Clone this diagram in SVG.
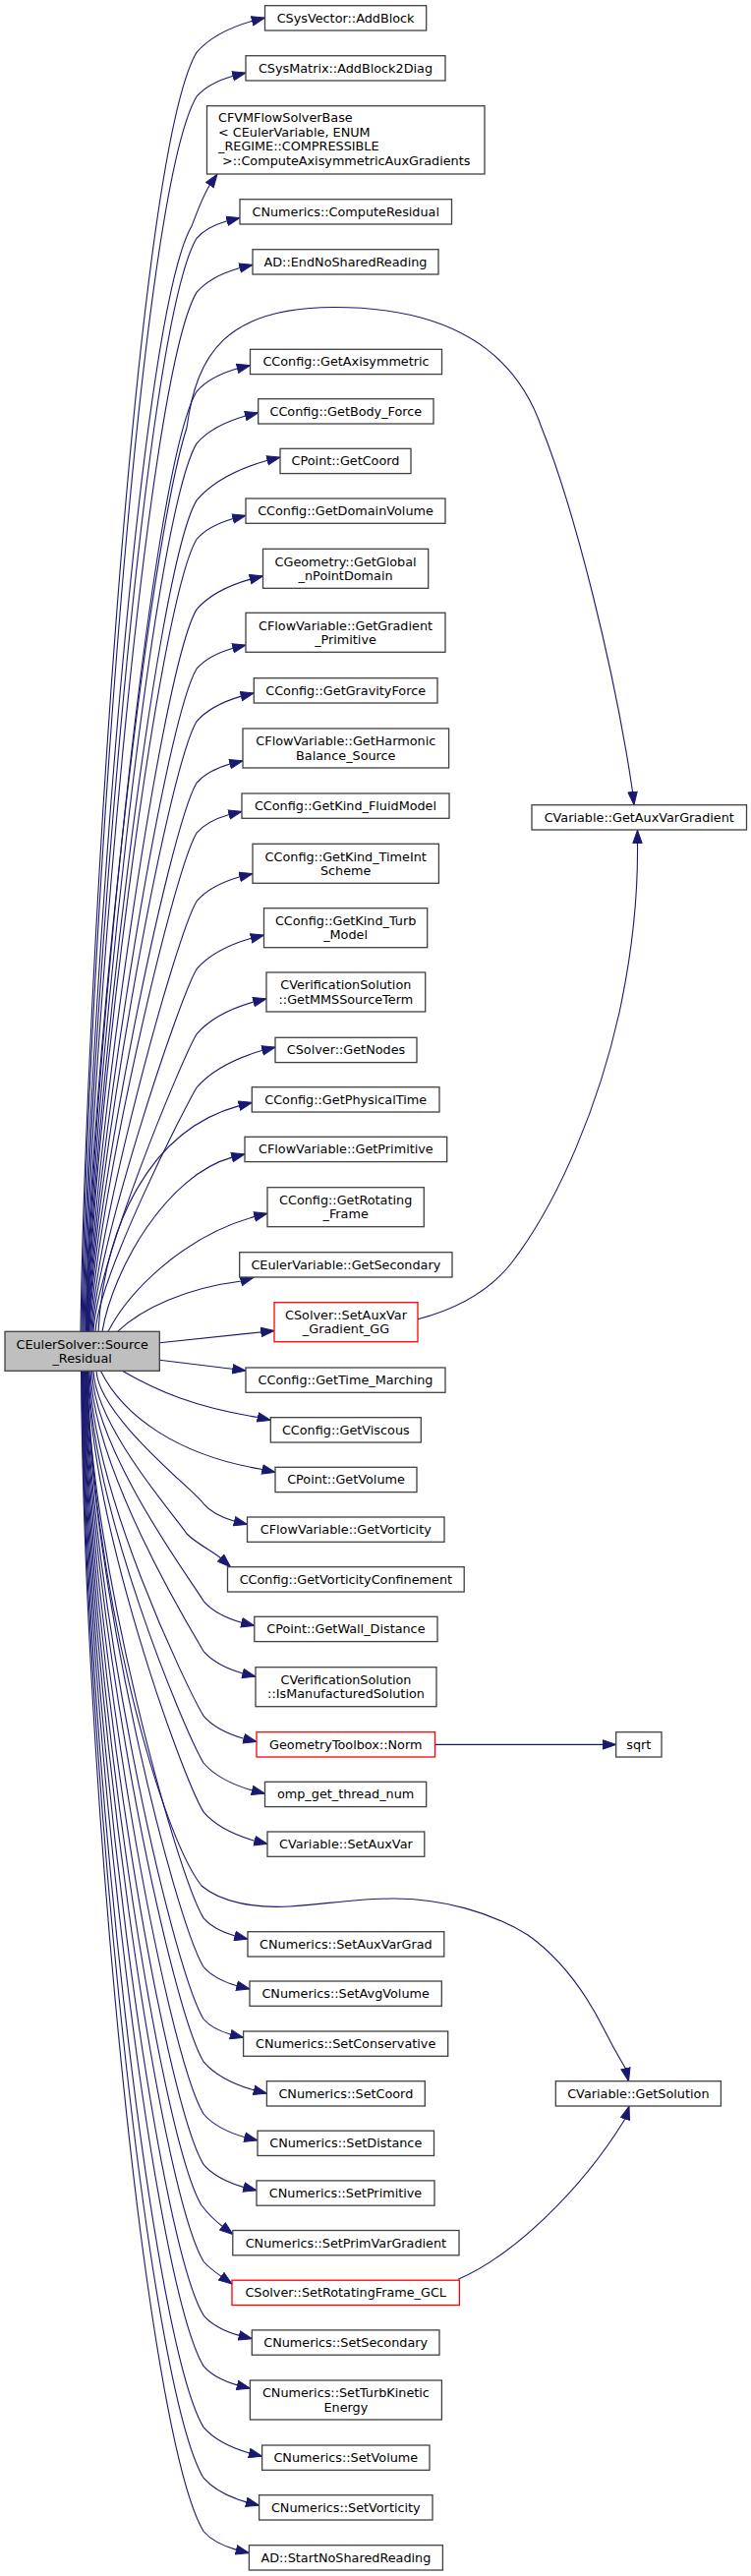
<svg xmlns="http://www.w3.org/2000/svg" width="764" height="2620" viewBox="0 0 764 2620">
<style>
.n rect{fill:#fff;stroke:#404040;stroke-width:1.3}
.n.r rect{stroke:#ff0000}
.n.root rect{fill:#bfbfbf}
text{font-family:"DejaVu Sans","Liberation Sans",sans-serif;font-size:12.8px;fill:#000;text-anchor:middle}
text.l{text-anchor:start}
.e path{fill:none;stroke:#191970;stroke-width:1.1;marker-end:url(#a)}
</style>
<defs>
<marker id="a" markerUnits="userSpaceOnUse" markerWidth="15" markerHeight="11" viewBox="0 0 15 11" refX="13.8" refY="5.5" orient="auto">
<path d="M0.5,0.8L13.8,5.5L0.5,10.2z" fill="#191970" stroke="#191970" stroke-width="1"/>
</marker>
</defs>
<rect width="764" height="2620" fill="#fff"/>
<g id="edges" class="e">
<path d="M82,1354.3C86,1051.2 135,162.6 200,53.3C214.2,36.7 234.5,27.7 256.6,21.3L269.5,18.1"/>
<path d="M83,1354.3C87,1061.6 137.2,203.7 200,98.2C209.3,87.3 222.6,81.4 237.1,77.2L250,74"/>
<path d="M84,1354.3C88,1092.3 139,324.4 195,230C200,217 206,200 213.5,188L221,177.2"/>
<path d="M85,1354.3C89,1095.2 144.4,335.7 200,242.3C207.8,233.2 219,228.2 231.1,224.7L244,221.5"/>
<path d="M86,1354.3C90,1108 147.2,386.1 200,297.4C211,284.4 226.9,277.4 244.1,272.5L257,269.3"/>
<path d="M87,1354.3C91,1100 150,560 190,435C200,360 230,312.5 340,312.5C440,312.5 520,345 551,435C585,520 625,680 643.5,805L645,818.7"/>
<path d="M87.5,1354.3C91.5,1131.6 152.2,478.6 200,398.3C210.4,386.1 225.4,379.5 241.6,374.8L254.5,371.6"/>
<path d="M88,1354.3C92,1143.9 154.8,527 200,451.1C212.5,436.5 230.4,428.6 249.8,423L262.7,419.8"/>
<path d="M88.5,1354.3C92.5,1157.3 157.7,579.9 200,508.9C218,487.7 244,476.3 272.1,468.2L285,465"/>
<path d="M89,1354.3C93,1166.5 159.7,616.2 200,548.5C209.3,537.6 222.6,531.7 237.1,527.5L250,524.3"/>
<path d="M89.5,1354.3C93.5,1183.2 163.3,681.6 200,619.9C213.7,603.8 233.3,595.2 254.6,589.1L267.5,585.9"/>
<path d="M90,1354.3C94,1197.2 166.3,736.8 200,680.2C209.3,669.3 222.6,663.4 237.1,659.2L250,656"/>
<path d="M90.5,1354.3C94.5,1209.7 169,785.9 200,733.8C211.4,720.5 227.7,713.3 245.4,708.1L258.3,704.9"/>
<path d="M91,1354.3C95,1224.3 172.1,843.2 200,796.3C208.5,786.3 220.8,780.9 234.1,777L247,773.8"/>
<path d="M92,1354.3C96,1236.1 174.6,889.8 200,847.2C208.3,837.5 220.2,832.2 233.1,828.5L246,825.3"/>
<path d="M93,1354.3C97,1252.3 178.1,953.5 200,916.7C211,903.7 226.9,896.8 244.1,891.8L257,888.6"/>
<path d="M94,1354.3C98,1268.4 181.6,1016.7 200,985.7C213.9,969.4 233.9,960.6 255.6,954.3L268.5,951.1"/>
<path d="M95,1354.3C99,1283.8 184.9,1077.2 200,1051.8C214.5,1034.7 235.4,1025.5 258.1,1019L271,1015.8"/>
<path d="M97,1354.3C101,1296.5 187.6,1127 200,1106.2C216.8,1086.5 240.9,1075.9 267.1,1068.3L280,1065.1"/>
<path d="M100,1354.3C106,1250 150,1150 243.4,1124.6L256.3,1121.4"/>
<path d="M104,1354.3C115,1290 170,1195 236.1,1177.1L249,1173.9"/>
<path d="M110,1354.3C130,1315 185,1258 259.1,1237.4L272,1234.2"/>
<path d="M119.5,1354.3C145,1330 190,1310 245.5,1303L258,1299.3"/>
<path d="M162.3,1365.7L279,1353.5"/>
<path d="M162.3,1383.3L250,1394"/>
<path d="M124.4,1394.3C160,1415 200,1432 262.5,1441.5L275.3,1444.5"/>
<path d="M102.4,1394.3C125,1440 180,1480 267,1494.5L280,1497.5"/>
<path d="M98,1394.3C101,1441.6 200.3,1518 207,1529.3C214.9,1538.6 226.3,1543.6 238.6,1547.2L251.5,1550.4"/>
<path d="M95,1394.3C98,1452.3 181.7,1546.1 190,1560C200,1570 215,1577 225,1585L234.5,1593.7"/>
<path d="M93.5,1394.3C96.5,1476.2 195.3,1608.6 207,1628.3C216.7,1639.7 230.7,1645.9 245.9,1650.3L258.8,1653.5"/>
<path d="M92,1394.3C95,1494.1 192.8,1655.4 207,1679.3C217,1691.1 231.5,1697.4 247.1,1702L260,1705.2"/>
<path d="M91,1394.3C94,1517.1 189.5,1715.6 207,1745.1C217.3,1757.2 232.1,1763.7 248.1,1768.3L261,1771.5"/>
<path d="M90,1394.3C93,1533.8 187.1,1759.5 207,1793C219.4,1807.6 237.3,1815.4 256.6,1821L269.5,1824.2"/>
<path d="M89.5,1394.3C92.5,1551.3 184.6,1805.2 207,1842.9C220,1858.2 238.8,1866.4 259.1,1872.3L272,1875.5"/>
<path d="M89,1394.3C92,1600 160,1860 205,1918C225,1935 260,1941 295,1939C330,1937 360,1931 400,1931C450,1931 500,1945 537,1968C575,1995 600,2035 615,2065C625,2085 633,2098 636.5,2104L639.5,2116.7"/>
<path d="M88.5,1394.3C91.5,1589.1 179.2,1904.1 207,1950.9C215,1960.3 226.6,1965.4 239.1,1969L252,1972.2"/>
<path d="M88,1394.3C91,1606.5 176.7,1949.6 207,2000.5C215.5,2010.5 227.8,2015.9 241.1,2019.8L254,2023"/>
<path d="M87.5,1394.3C90.5,1625 174,1998.1 207,2053.5C213.9,2061.6 223.9,2066 234.7,2069.2L247.6,2072.4"/>
<path d="M87,1394.3C90,1640.2 171.9,2037.8 207,2096.8C219.9,2111.9 238.4,2120.1 258.5,2125.9L271.4,2129.1"/>
<path d="M86.5,1394.3C89.5,1658.8 169.2,2086.5 207,2150C217.5,2162.4 232.7,2169 249.1,2173.8L262,2177"/>
<path d="M86,1394.3C89,1676.8 166.6,2133.6 207,2201.4C217.3,2213.5 232.1,2220 248.1,2224.6L261,2227.8"/>
<path d="M85.5,1394.3C88.5,1691.3 162.6,2171.7 205,2243C212,2252 219,2259 226.5,2264.5L237,2272.5"/>
<path d="M85,1394.3C88,1711.3 161.7,2223.9 207,2300C213,2307 219,2311 225.5,2315.5L236,2323"/>
<path d="M84.5,1394.3C87.5,1730.5 159,2274.1 207,2354.8C216.1,2365.5 229.2,2371.3 243.4,2375.4L256.3,2378.6"/>
<path d="M84,1394.3C87,1748.5 156.4,2321.4 207,2406.4C215.6,2416.5 228,2422 241.5,2425.9L254.4,2429.1"/>
<path d="M83.5,1394.3C86.5,1770.3 153.3,2378.4 207,2468.6C218.7,2482.3 235.5,2489.7 253.7,2495L266.6,2498.2"/>
<path d="M83,1394.3C86,1788.4 150.7,2425.6 207,2520.2C217.9,2533 233.7,2540 250.7,2544.9L263.6,2548.1"/>
<path d="M82.5,1394.3C85.5,1807.4 148,2475.4 207,2574.5C215.4,2584.3 227.4,2589.6 240.5,2593.4L253.4,2596.6"/>
<path d="M425,1341.7C470,1330 500,1310 520,1285C570,1220 610,1120 630,1030C645,960 649,900 648.5,858L648.5,844.3"/>
<path d="M442.5,1774.4L626.7,1774.4"/>
<path d="M466,2318.3C520,2295 590,2230 636,2155L640,2142.3"/>
</g>
<g id="root" class="n root"><rect x="5" y="1354.3" width="157.3" height="40"/><text x="83.65" y="1371.65">CEulerSolver::Source</text><text x="83.65" y="1385.95">_Residual</text></g>
<g id="n1" class="n"><rect x="269.5" y="5.7" width="164.2" height="25.3"/><text x="351.6" y="22.85">CSysVector::AddBlock</text></g>
<g id="n2" class="n"><rect x="250" y="56.7" width="203" height="25.3"/><text x="351.5" y="73.85">CSysMatrix::AddBlock2Diag</text></g>
<g id="n3" class="n"><rect x="210.5" y="107.7" width="282.5" height="69.3"/><text class="l" x="222" y="124.2">CFVMFlowSolverBase</text><text class="l" x="222" y="138.8">&lt; CEulerVariable, ENUM</text><text class="l" x="222" y="153.4">_REGIME::COMPRESSIBLE</text><text class="l" x="222" y="168" xml:space="preserve"> &gt;::ComputeAxisymmetricAuxGradients</text></g>
<g id="n4" class="n"><rect x="244" y="202.7" width="215.5" height="25.3"/><text x="351.75" y="219.85">CNumerics::ComputeResidual</text></g>
<g id="n5" class="n"><rect x="257" y="253.7" width="189" height="25.3"/><text x="351.5" y="270.85">AD::EndNoSharedReading</text></g>
<g id="n6" class="n"><rect x="254.5" y="355.3" width="195" height="25.3"/><text x="352" y="372.45">CConfig::GetAxisymmetric</text></g>
<g id="n7" class="n"><rect x="262.7" y="405.7" width="178.3" height="25.3"/><text x="351.85" y="422.85">CConfig::GetBody_Force</text></g>
<g id="n8" class="n"><rect x="285" y="456.3" width="133" height="25.3"/><text x="351.5" y="473.45">CPoint::GetCoord</text></g>
<g id="n9" class="n"><rect x="250" y="507" width="203" height="25.3"/><text x="351.5" y="524.15">CConfig::GetDomainVolume</text></g>
<g id="n10" class="n"><rect x="267.5" y="558.3" width="168.2" height="40"/><text x="351.6" y="575.65">CGeometry::GetGlobal</text><text x="351.6" y="589.95">_nPointDomain</text></g>
<g id="n11" class="n"><rect x="250" y="623.3" width="203" height="40"/><text x="351.5" y="640.65">CFlowVariable::GetGradient</text><text x="351.5" y="654.95">_Primitive</text></g>
<g id="n12" class="n"><rect x="258.3" y="689.7" width="186.7" height="25.3"/><text x="351.65" y="706.85">CConfig::GetGravityForce</text></g>
<g id="n13" class="n"><rect x="247" y="741" width="209.6" height="40"/><text x="351.8" y="758.35">CFlowVariable::GetHarmonic</text><text x="351.8" y="772.65">Balance_Source</text></g>
<g id="n14" class="n"><rect x="246" y="807" width="211" height="25.3"/><text x="351.5" y="824.15">CConfig::GetKind_FluidModel</text></g>
<g id="n15" class="n"><rect x="257" y="858.3" width="189.4" height="40"/><text x="351.7" y="875.65">CConfig::GetKind_TimeInt</text><text x="351.7" y="889.95">Scheme</text></g>
<g id="n16" class="n"><rect x="268.5" y="923.7" width="166.2" height="40"/><text x="351.6" y="941.05">CConfig::GetKind_Turb</text><text x="351.6" y="955.35">_Model</text></g>
<g id="n17" class="n"><rect x="271" y="989" width="161.7" height="40"/><text x="351.85" y="1006.35">CVerificationSolution</text><text x="351.85" y="1020.65">::GetMMSSourceTerm</text></g>
<g id="n18" class="n"><rect x="280" y="1055.3" width="144" height="25.3"/><text x="352" y="1072.45">CSolver::GetNodes</text></g>
<g id="n19" class="n"><rect x="256.3" y="1105.7" width="190.7" height="25.3"/><text x="351.65" y="1122.85">CConfig::GetPhysicalTime</text></g>
<g id="n20" class="n"><rect x="249" y="1156.3" width="205.7" height="25.3"/><text x="351.85" y="1173.45">CFlowVariable::GetPrimitive</text></g>
<g id="n21" class="n"><rect x="272" y="1207.7" width="159.3" height="40"/><text x="351.65" y="1225.05">CConfig::GetRotating</text><text x="351.65" y="1239.35">_Frame</text></g>
<g id="n22" class="n"><rect x="243.7" y="1273.7" width="216.3" height="25.3"/><text x="351.85" y="1290.85">CEulerVariable::GetSecondary</text></g>
<g id="n23" class="n r"><rect x="279" y="1324.7" width="146" height="40"/><text x="352" y="1342.05">CSolver::SetAuxVar</text><text x="352" y="1356.35">_Gradient_GG</text></g>
<g id="n24" class="n"><rect x="250" y="1391" width="203" height="25.3"/><text x="351.5" y="1408.15">CConfig::GetTime_Marching</text></g>
<g id="n25" class="n"><rect x="275.3" y="1441.7" width="153" height="25.3"/><text x="351.8" y="1458.85">CConfig::GetViscous</text></g>
<g id="n26" class="n"><rect x="280" y="1492.3" width="144" height="25.3"/><text x="352" y="1509.45">CPoint::GetVolume</text></g>
<g id="n27" class="n"><rect x="251.5" y="1543" width="200.5" height="25.3"/><text x="351.75" y="1560.15">CFlowVariable::GetVorticity</text></g>
<g id="n28" class="n"><rect x="231.5" y="1593.7" width="240.7" height="25.3"/><text x="351.85" y="1610.85">CConfig::GetVorticityConfinement</text></g>
<g id="n29" class="n"><rect x="258.8" y="1644.3" width="186.2" height="25.3"/><text x="351.9" y="1661.45">CPoint::GetWall_Distance</text></g>
<g id="n30" class="n"><rect x="260" y="1695.7" width="184" height="40"/><text x="352" y="1713.05">CVerificationSolution</text><text x="352" y="1727.35">::IsManufacturedSolution</text></g>
<g id="n31" class="n r"><rect x="261" y="1761.7" width="181.5" height="25.3"/><text x="351.75" y="1778.85">GeometryToolbox::Norm</text></g>
<g id="n32" class="n"><rect x="269.5" y="1812.3" width="164.2" height="25.3"/><text x="351.6" y="1829.45">omp_get_thread_num</text></g>
<g id="n33" class="n"><rect x="272" y="1863" width="159.8" height="25.3"/><text x="351.9" y="1880.15">CVariable::SetAuxVar</text></g>
<g id="n34" class="n"><rect x="252" y="1964.7" width="199.8" height="25.3"/><text x="351.9" y="1981.85">CNumerics::SetAuxVarGrad</text></g>
<g id="n35" class="n"><rect x="254" y="2015" width="195.3" height="25.3"/><text x="351.65" y="2032.15">CNumerics::SetAvgVolume</text></g>
<g id="n36" class="n"><rect x="247.6" y="2066" width="208.1" height="25.3"/><text x="351.65" y="2083.15">CNumerics::SetConservative</text></g>
<g id="n37" class="n"><rect x="271.4" y="2116.7" width="160.9" height="25.3"/><text x="351.85" y="2133.85">CNumerics::SetCoord</text></g>
<g id="n38" class="n"><rect x="262" y="2167.2" width="179.5" height="25.3"/><text x="351.75" y="2184.35">CNumerics::SetDistance</text></g>
<g id="n39" class="n"><rect x="261" y="2217.9" width="181" height="25.3"/><text x="351.5" y="2235.05">CNumerics::SetPrimitive</text></g>
<g id="n40" class="n"><rect x="236.8" y="2268.5" width="230.2" height="25.3"/><text x="351.9" y="2285.65">CNumerics::SetPrimVarGradient</text></g>
<g id="n41" class="n r"><rect x="236" y="2319.2" width="231.4" height="25.3"/><text x="351.7" y="2336.35">CSolver::SetRotatingFrame_GCL</text></g>
<g id="n42" class="n"><rect x="256.3" y="2369.9" width="190.7" height="25.3"/><text x="351.65" y="2387.05">CNumerics::SetSecondary</text></g>
<g id="n43" class="n"><rect x="254.4" y="2421" width="195" height="40"/><text x="351.9" y="2438.35">CNumerics::SetTurbKinetic</text><text x="351.9" y="2452.65">Energy</text></g>
<g id="n44" class="n"><rect x="266.6" y="2487" width="170.4" height="25.3"/><text x="351.8" y="2504.15">CNumerics::SetVolume</text></g>
<g id="n45" class="n"><rect x="263.6" y="2537.7" width="176.4" height="25.3"/><text x="351.8" y="2554.85">CNumerics::SetVorticity</text></g>
<g id="n46" class="n"><rect x="253.4" y="2588.7" width="197" height="25.3"/><text x="351.9" y="2605.85">AD::StartNoSharedReading</text></g>
<g id="n47" class="n"><rect x="541" y="818.7" width="218.5" height="25.3"/><text x="650.25" y="835.85">CVariable::GetAuxVarGradient</text></g>
<g id="n48" class="n"><rect x="565.3" y="2116.7" width="168.1" height="25.3"/><text x="649.35" y="2133.85">CVariable::GetSolution</text></g>
<g id="n49" class="n"><rect x="626.7" y="1761.7" width="46.3" height="25.3"/><text x="649.85" y="1778.85">sqrt</text></g>
</svg>
